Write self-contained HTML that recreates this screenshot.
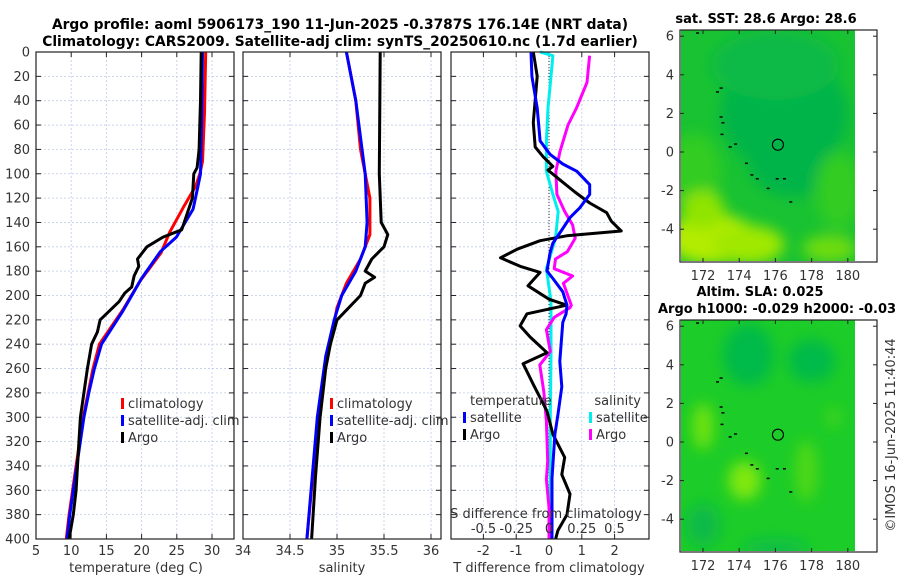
<!DOCTYPE html>
<html><head><meta charset="utf-8">
<style>
html,body{margin:0;padding:0;background:#fff;}
svg{display:block;font-family:"DejaVu Sans","Liberation Sans",sans-serif;}
.t{font-weight:bold;font-size:13.8px;fill:#000;}
.tm{font-weight:bold;font-size:13px;fill:#000;}
.tk{font-size:13px;fill:#333;}
</style></head>
<body>
<svg id="fig" width="900" height="580" viewBox="0 0 900 580" xmlns="http://www.w3.org/2000/svg">
<defs>
<filter id="blur6" x="-50%" y="-50%" width="200%" height="200%"><feGaussianBlur stdDeviation="7"/></filter>
<clipPath id="clipM1"><rect x="681" y="30" width="174" height="231"/></clipPath>
<clipPath id="clipM2"><rect x="681" y="320" width="174" height="231"/></clipPath>
</defs>
<text class="t" x="340" y="29" text-anchor="middle">Argo profile: aoml 5906173_190 11-Jun-2025 -0.3787S 176.14E (NRT data)</text>
<text class="t" x="340" y="46" text-anchor="middle">Climatology: CARS2009. Satellite-adj clim: synTS_20250610.nc (1.7d earlier)</text>
<g id="g"></g>
<text class="tm" x="766" y="23" text-anchor="middle">sat. SST: 28.6 Argo: 28.6</text>
<text class="tm" x="760" y="296" text-anchor="middle">Altim. SLA: 0.025</text>
<text class="tm" x="658" y="313">Argo h1000: -0.029 h2000: -0.03</text>
<text class="tk" x="0" y="0" transform="translate(895,435) rotate(-90)" text-anchor="middle" font-size="13">©IMOS 16-Jun-2025 11:40:44</text>
</svg>
<script>
// ---- data ----
const tDepthClim=[0,50,90,100,110,128,148,165,188,212,240,260,280,300,340,380,400];
const tClim=[29.1,28.94,28.65,28.27,27.7,25.89,23.99,22.75,19.8,17.32,14.0,13.1,12.4,11.7,10.7,9.7,9.3];
const tDepthSat=[0,50,100,111,129,152,164,186,213,240,260,280,300,340,380,400];
const tSat=[28.65,28.55,28.36,27.98,27.32,24.94,22.65,19.99,17.32,14.3,13.3,12.5,11.8,10.8,9.8,9.4];
const tDepthArgo=[0,40,80,95,100,120,146,152,160,170,176,184,193,198,205,220,230,240,260,280,300,330,360,380,400];
const tArgo=[28.46,28.36,28.17,27.89,27.41,27.22,25.7,23.04,20.75,19.42,19.6,18.94,18.6,17.61,16.8,14.1,13.72,12.9,12.3,11.8,11.3,11.0,10.7,10.3,9.7];
const sDepthClim=[0,40,80,120,150,170,190,210,230,260,300,400];
const sClim=[35.1,35.2,35.25,35.35,35.35,35.25,35.1,35.0,34.95,34.87,34.8,34.68];
const sDepthSat=[0,40,100,140,160,180,200,220,250,300,400];
const sSat=[35.1,35.2,35.3,35.32,35.3,35.2,35.05,34.97,34.88,34.79,34.68];
const sDepthArgo=[0,100,140,150,160,170,180,185,190,200,220,240,260,300,350,400];
const sArgo=[35.46,35.45,35.47,35.54,35.5,35.37,35.3,35.4,35.3,35.25,35.0,34.93,34.88,34.82,34.77,34.73];
const dDepthTArgo=[0,20,58,78,86,94,97,105,115,124,132,139,147,151,155,162,169,176,181,192,203,208,215,225,234,247,256,273,295,314,333,347,363,380,393,400];
const dTArgo=[-0.48,-0.36,-0.48,-0.42,-0.18,0.12,-0.03,0.33,0.79,1.24,1.76,1.9,2.2,0.54,-0.27,-0.97,-1.48,-0.88,-0.27,-0.64,0,0.54,-0.67,-0.88,-0.58,-0.06,-0.79,-0.48,-0.06,0.12,0.48,0.39,0.64,0.55,0.27,0.2];
const dDepthTSat=[0,20,46,73,84,92,98,109,117,128,136,145,157,165,180,186,197,208,215,222,254,275,298,314,350,400];
const dTSat=[-0.55,-0.52,-0.36,-0.27,0.03,0.42,0.85,1.24,1.24,0.94,0.64,0.42,0.12,0.03,-0.06,0.12,0.42,0.55,0.52,0.42,0.33,0.39,0.27,0.18,0.09,0.09];
const dDepthSSat=[0,3,20,46,73,98,117,131,153,178,205,250,300,400];
const dSSat=[-0.068,0.03,0.015,-0.008,-0.02,-0.02,0.03,0.07,0.05,-0.02,0.015,0.015,0.01,0.01];
const dDepthSArgo=[3,25,46,60,82,98,117,131,142,153,164,170,178,184,190,208,210,218,228,246,257,279,303,336,351,374,400];
const dSArgo=[0.31,0.29,0.21,0.145,0.083,0.053,0.06,0.12,0.18,0.2,0.14,0.05,0.04,0.18,0.11,0.17,0.16,0.04,-0.02,0.01,-0.07,-0.04,-0.02,-0.01,-0.02,0,0];
const depthTicks=[0,20,40,60,80,100,120,140,160,180,200,220,240,260,280,300,320,340,360,380,400];
const tTicks=[5,10,15,20,25,30];
const sTicks=[34,34.5,35,35.5,36];
const dTTicks=[-2,-1,0,1,2];
const dSTicks=[-0.5,-0.25,0,0.25,0.5];
const dSTickLabels=["-0.5","-0.25","0","0.25","0.5"];
const lonTicks=[172,174,176,178,180];
const latTicks=[6,4,2,0,-2,-4];
const argoLon=176.14, argoLat=0.3787;

// ---- helpers ----
const NS="http://www.w3.org/2000/svg";
const G=document.getElementById('g');
function mk(tag,attrs,parent){const e=document.createElementNS(NS,tag);for(const k in attrs)e.setAttribute(k,attrs[k]);(parent||G).appendChild(e);return e;}
const Y0=52,Y1=539;
const yD=d=>Y0+(Y1-Y0)*d/400;
function xT(v){return 36+(v-5)*7.04;}
function xS(v){return 243+(v-34)*94;}
function xDT(v){return 549+v*32.8;}
function xDS(v){return 549+v*131;}

function panel(name,x0,x1,ticks,xf,labels,gridVals){
  const grp=mk('g',{});
  
  
  depthTicks.forEach(d=>{if(d>0&&d<400){const l=mk('line',{x1:x0,x2:x1,y1:yD(d),y2:yD(d),stroke:'#c0cbe8','stroke-width':0.8,'stroke-dasharray':'2,2'},grp);}});
  gridVals.forEach(v=>{const x=xf(v);if(x>x0+1&&x<x1-1){const l=mk('line',{x1:x,x2:x,y1:Y0,y2:Y1,stroke:'#c0cbe8','stroke-width':0.8,'stroke-dasharray':'2,2'},grp);}});
  depthTicks.forEach(d=>{mk('line',{x1:x0,x2:x0+5,y1:yD(d),y2:yD(d),stroke:'#222'},grp);mk('line',{x1:x1-5,x2:x1,y1:yD(d),y2:yD(d),stroke:'#222'},grp);});
  ticks.forEach((v,i)=>{const x=xf(v);mk('line',{x1:x,x2:x,y1:Y1,y2:Y1-5,stroke:'#222'},grp);mk('line',{x1:x,x2:x,y1:Y0,y2:Y0+5,stroke:'#222'},grp);
    if(labels){const t=mk('text',{x:x,y:Y1+16,'text-anchor':'middle',class:'tk'},grp);t.textContent=labels[i];}});
  return grp;
}
function box(x0,x1,grp){mk('rect',{x:x0,y:Y0,width:x1-x0,height:Y1-Y0,fill:'none',stroke:'#222','stroke-width':1.2},grp);}
function line(xs,ds,xf,color,name,grp,w){
  const pts=xs.map((v,i)=>xf(v).toFixed(1)+','+yD(ds[i]).toFixed(1)).join(' ');
  const p=mk('polyline',{points:pts,fill:'none',stroke:color,'stroke-width':w||3,'stroke-linejoin':'round'},grp);
  
  
}
function txt(x,y,s,grp,name,anchor,cls){const t=mk('text',{x:x,y:y,class:cls||'tk','text-anchor':anchor||'start'},grp);t.textContent=s;return t;}
function legItem(x,y,color,s,grp,name){mk('rect',{x:x,y:y-10,width:3,height:11,fill:color},grp);txt(x+7,y,s,grp,name);}

let p1=panel('temperature-panel',36,234,tTicks,xT,tTicks.map(String),tTicks);
depthTicks.forEach(d=>{txt(30,yD(d)+4.5,String(d),p1,'y-tick-label','end');});
line(tClim,tDepthClim,xT,'#ff0000','temperature-climatology-line',p1);
line(tSat,tDepthSat,xT,'#0000ff','temperature-satellite-line',p1);
line(tArgo,tDepthArgo,xT,'#000','temperature-argo-line',p1);
box(36,234,p1);
legItem(121,408,'#ff0000','climatology',p1,'legend-climatology');
legItem(121,425,'#0000ff','satellite-adj. clim',p1,'legend-satellite');
legItem(121,442,'#000','Argo',p1,'legend-argo');
txt(136,572,'temperature (deg C)',p1,'x-axis-title','middle');

let p2=panel('salinity-panel',243,441,sTicks,xS,sTicks.map(String),sTicks);
line(sClim,sDepthClim,xS,'#ff0000','salinity-climatology-line',p2);
line(sSat,sDepthSat,xS,'#0000ff','salinity-satellite-line',p2);
line(sArgo,sDepthArgo,xS,'#000','salinity-argo-line',p2);
box(243,441,p2);
legItem(330,408,'#ff0000','climatology',p2,'legend-climatology');
legItem(330,425,'#0000ff','satellite-adj. clim',p2,'legend-satellite');
legItem(330,442,'#000','Argo',p2,'legend-argo');
txt(342,572,'salinity',p2,'x-axis-title','middle');

let p3=panel('difference-panel',451,649,dTTicks,xDT,dTTicks.map(String),dTTicks);
mk('line',{x1:549,x2:549,y1:Y0,y2:Y1,stroke:'#333','stroke-width':1,'stroke-dasharray':'1,2'},p3);
line(dSSat,dDepthSSat,xDS,'#00eeee','salinity-satellite-diff-line',p3);
line(dSArgo,dDepthSArgo,xDS,'#ff00ff','salinity-argo-diff-line',p3);
line(dTArgo,dDepthTArgo,xDT,'#000','temperature-argo-diff-line',p3);
line(dTSat,dDepthTSat,xDT,'#0000ff','temperature-satellite-diff-line',p3);
box(451,649,p3);
txt(470,405,'temperature',p3,'legend-temperature-heading');
legItem(463,422,'#0000ff','satellite',p3,'legend-t-satellite');
legItem(463,439,'#000','Argo',p3,'legend-t-argo');
txt(641,405,'salinity',p3,'legend-salinity-heading','end');
legItem(589,422,'#00eeee','satellite',p3,'legend-s-satellite');
legItem(589,439,'#ff00ff','Argo',p3,'legend-s-argo');
txt(546,518,'S difference from climatology',p3,'s-axis-title','middle');
dSTicks.forEach((v,i)=>txt(xDS(v),533,dSTickLabels[i],p3,'s-tick-label','middle'));
txt(549,572,'T difference from climatology',p3,'x-axis-title','middle');

const lonX=l=>703+(l-172)*18.1;
function map(name,yOff,clip,blobs,base){
  const grp=mk('g',{});
  
  
  const latY=a=>yOff+152-a*19.3;
  const cg=mk('g',{'clip-path':'url(#'+clip+')'},grp);
  mk('rect',{x:681,y:yOff+30,width:174,height:231,fill:base},cg);
  const bg=mk('g',{filter:'url(#blur6)'},cg);
  blobs.forEach(b=>mk('ellipse',{cx:lonX(b[0]),cy:latY(b[1]),rx:b[2]*18.1,ry:b[3]*19.3,fill:b[4]},bg));
  [[171.7,6.15],[172.8,3.1],[173,3.3],[173,1.8],[173.1,1.5],[173.05,0.9],[173.5,0.25],[173.8,0.4],[174.4,-0.6],[174.7,-1.2],[175,-1.4],[175.6,-1.9],[176.1,-1.4],[176.5,-1.4],[176.85,-2.6]].forEach(c=>mk('rect',{x:lonX(c[0])-1.5,y:latY(c[1])-1,width:3,height:1.5,fill:'#000'},cg));
  mk('circle',{cx:lonX(argoLon),cy:latY(argoLat),r:5.5,fill:'none',stroke:'#000','stroke-width':1.1},grp);
  mk('rect',{x:680,y:yOff+30,width:197,height:232,fill:'none',stroke:'#222','stroke-width':1.2},grp);
  lonTicks.forEach(l=>{const x=lonX(l);mk('line',{x1:x,x2:x,y1:yOff+262,y2:yOff+258,stroke:'#222'},grp);mk('line',{x1:x,x2:x,y1:yOff+30,y2:yOff+34,stroke:'#222'},grp);txt(x,yOff+280,String(l),grp,'lon-tick-label','middle');});
  latTicks.forEach(a=>{const y=latY(a);mk('line',{x1:680,x2:684,y1:y,y2:y,stroke:'#222'},grp);mk('line',{x1:873,x2:877,y1:y,y2:y,stroke:'#222'},grp);txt(674,y+4.5,String(a),grp,'lat-tick-label','end');});
}
map('sst-map',0,'clipM1',[
  [176.5,2,3.5,3,'#06b44a'],[177,-0.5,2.5,1.8,'#06b44a'],[176,4.5,3.5,1.8,'#0cba46'],
  [171.5,-1,1.5,2,'#30cc20'],[179.5,-2,1.3,2,'#30cc20'],
  [172.5,-4.5,2.5,1.3,'#b4ec00'],[174.5,-4.8,2,1,'#a0e800'],[172,-3,1.2,1,'#90e404'],[179,-5,1.5,0.7,'#70dc08']
],'#18c232');
map('sla-map',290,'clipM2',[
  [174.5,4.5,1.4,1.6,'#04ba4a'],[178,4.2,1.3,1.1,'#04ba4a'],[172,-4.3,0.9,1.1,'#08ba48'],[176,-5.5,1.8,0.5,'#0abe46'],
  [172,0.8,0.6,1.2,'#6ee210'],[174.3,-2,0.9,1,'#80e80a'],[177.7,-1.5,0.6,1.6,'#50d814'],[179.2,1.3,0.3,0.5,'#50d814']
],'#1ccc28');
</script>
</body></html>
